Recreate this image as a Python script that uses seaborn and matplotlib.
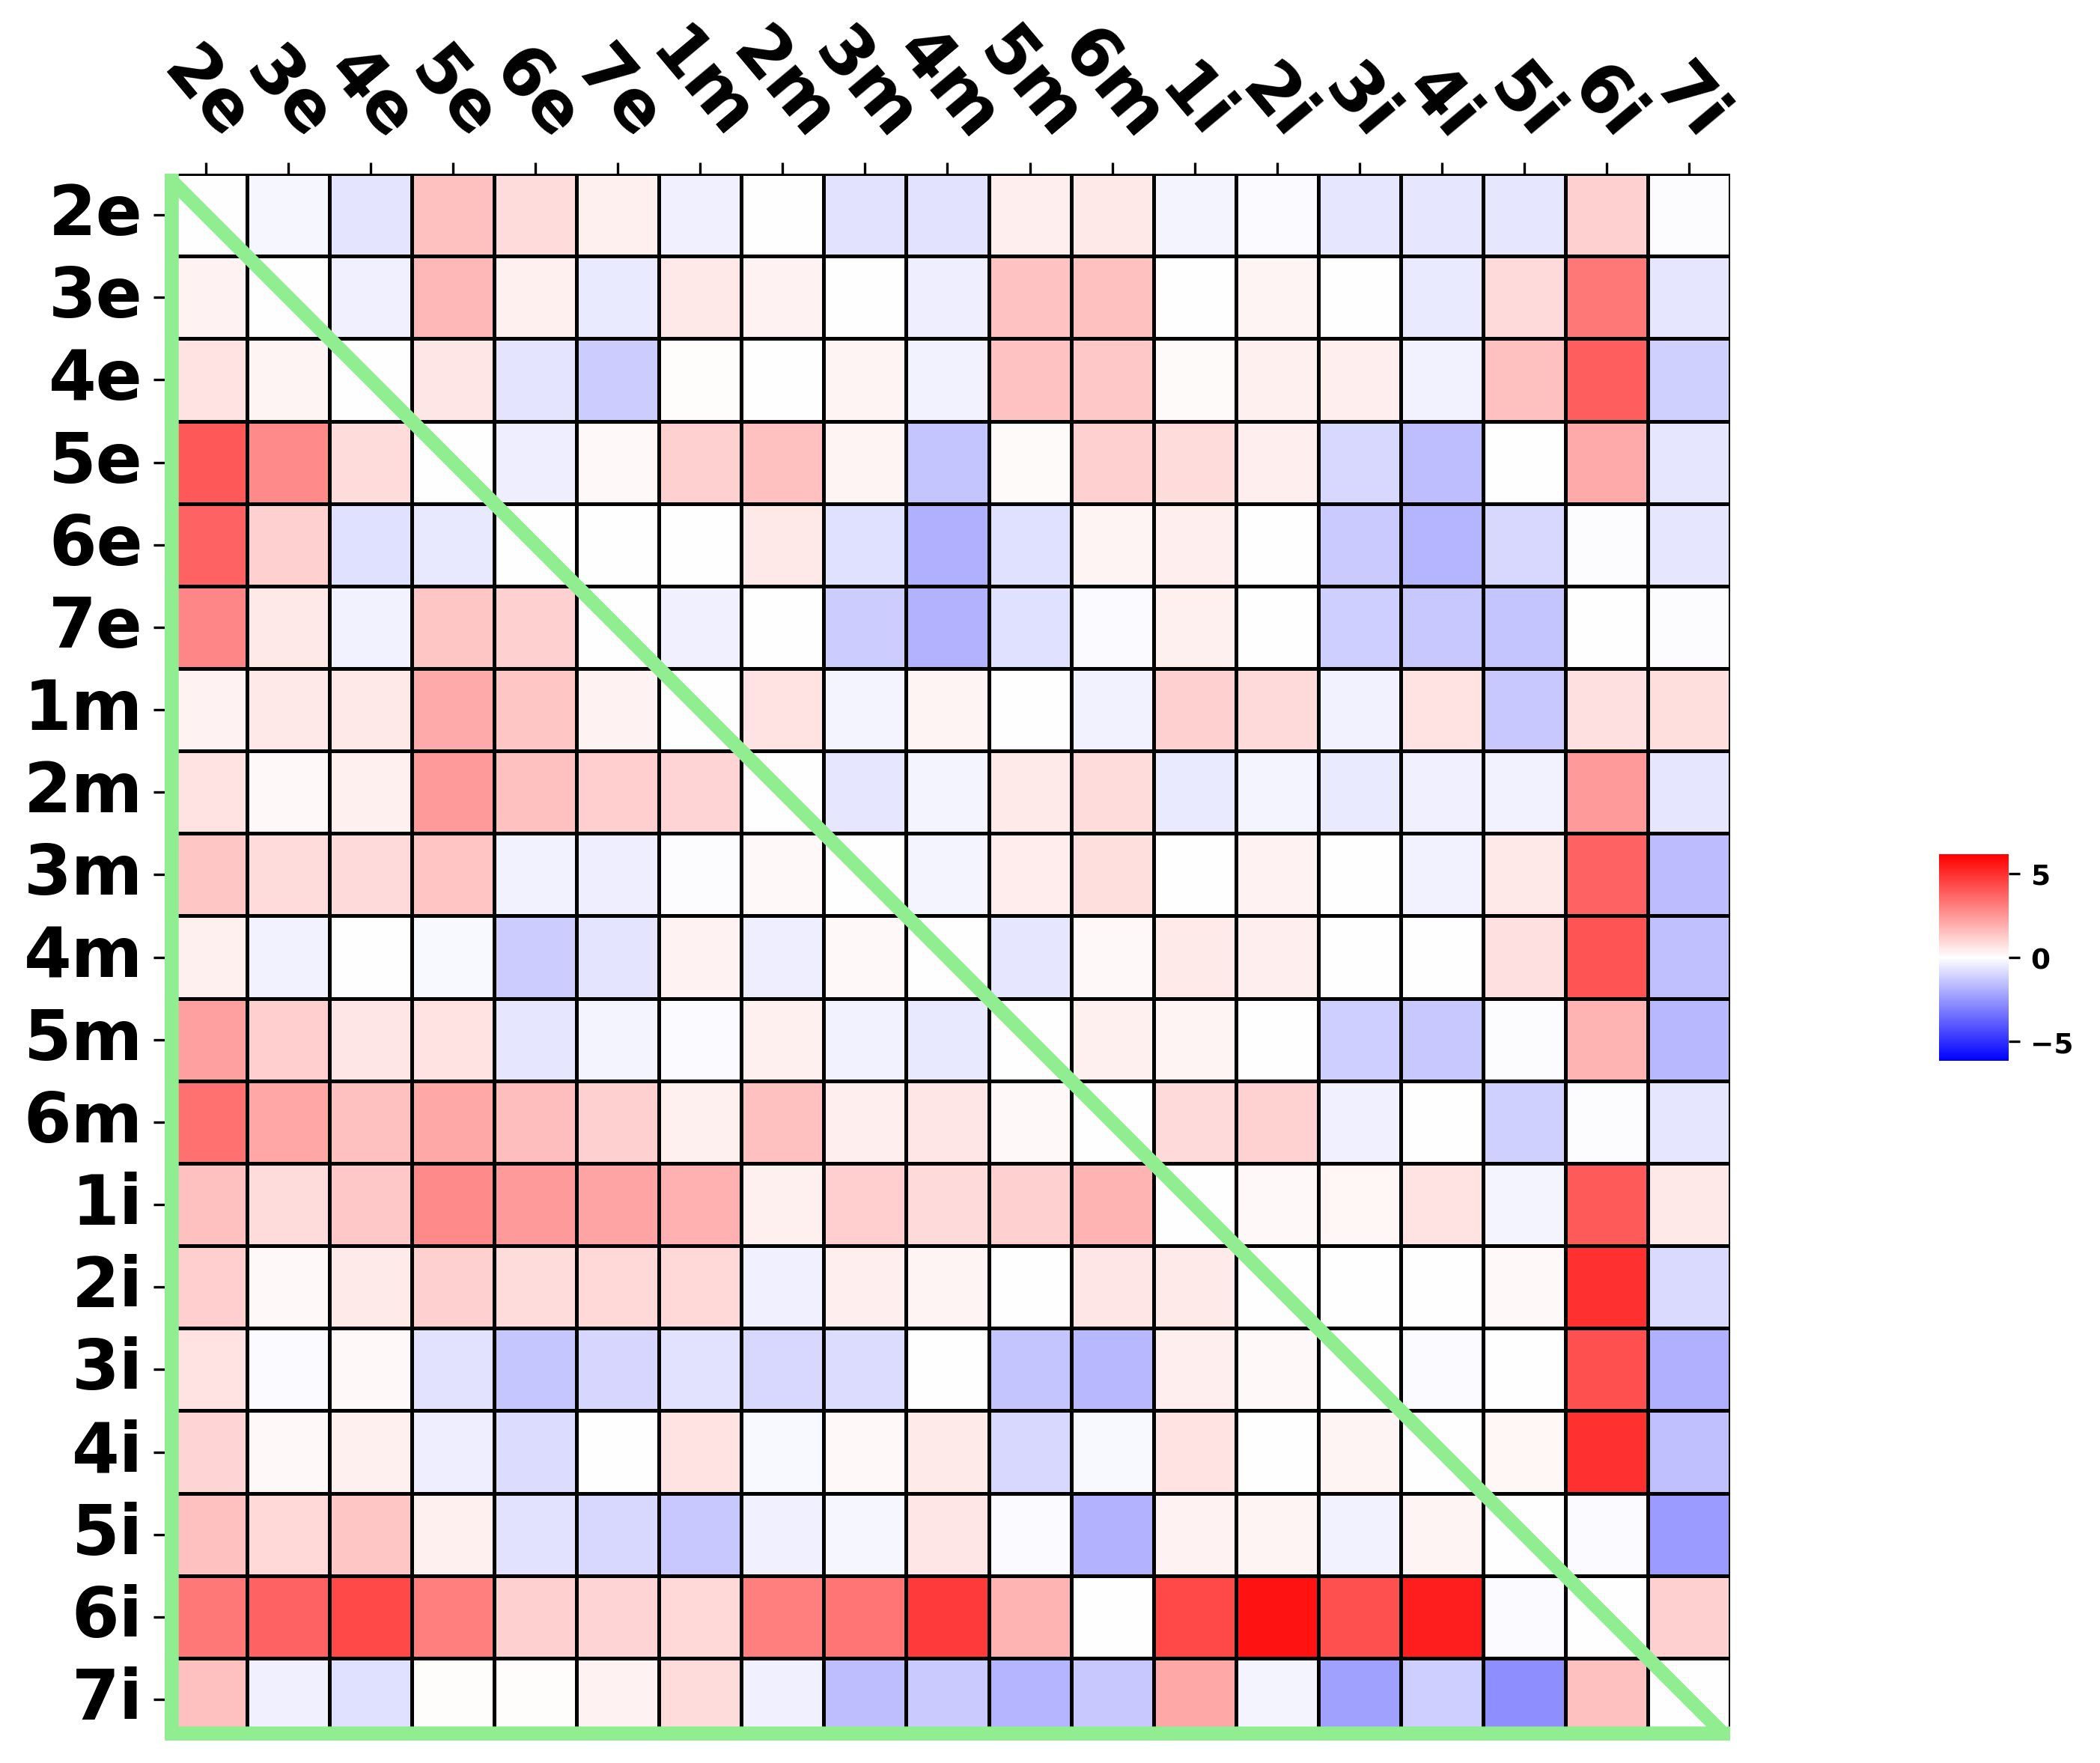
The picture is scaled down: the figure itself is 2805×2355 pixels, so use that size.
import numpy as np
import pandas as pd
import matplotlib
matplotlib.use("Agg")
import matplotlib.pyplot as plt
import seaborn as sns

labels = ["2e", "3e", "4e", "5e", "6e", "7e", "1m", "2m", "3m", "4m",
          "5m", "6m", "1i", "2i", "3i", "4i", "5i", "6i", "7i"]

row_2e = [0, -0.2, -0.65, 1.5, 0.85, 0.35, -0.35, 0, -0.7, -0.7, 0.4, 0.55, -0.25, -0.1, -0.6, -0.6, -0.6, 1.15, -0.05]
row_3e = [0.3, 0, -0.35, 1.7, 0.35, -0.5, 0.55, 0.3, 0.02, -0.4, 1.45, 1.5, 0, 0.25, 0, -0.5, 0.9, 3.25, -0.6]
row_4e = [0.7, 0.25, 0, 0.6, -0.65, -1.23, 0.07, 0, 0.25, -0.3, 1.45, 1.3, 0.12, 0.35, 0.4, -0.3, 1.5, 3.85, -1.15]
row_5e = [4.0, 2.8, 0.85, 0, -0.4, 0.17, 1.15, 1.5, 0.25, -1.42, 0.1, 1.15, 0.85, 0.4, -0.95, -1.55, 0, 2.05, -0.6]
row_6e = [3.75, 1.15, -0.75, -0.55, 0, 0, 0, 0.55, -0.75, -1.9, -0.75, 0.25, 0.4, 0, -1.25, -1.8, -0.95, -0.07, -0.6]
row_7e = [2.9, 0.55, -0.3, 1.35, 1.15, 0, -0.35, 0, -1.23, -1.85, -0.75, -0.1, 0.35, 0, -1.2, -1.3, -1.42, 0, -0.07]
row_1m = [0.3, 0.55, 0.55, 2.05, 1.35, 0.3, 0, 0.7, -0.25, 0.25, 0, -0.3, 1.15, 0.9, -0.3, 0.7, -1.3, 0.75, 0.8]
row_2m = [0.7, 0.17, 0.35, 2.45, 1.5, 1.2, 1.05, 0, -0.6, -0.25, 0.5, 0.85, -0.5, -0.25, -0.5, -0.35, -0.3, 2.45, -0.6]
row_3m = [1.35, 0.85, 0.9, 1.4, -0.3, -0.4, -0.05, 0.15, 0, -0.25, 0.45, 0.8, 0.03, 0.3, 0, -0.3, 0.55, 3.75, -1.6]
row_4m = [0.35, -0.3, -0.02, -0.15, -1.23, -0.65, 0.3, -0.4, 0.15, 0, -0.6, 0.15, 0.5, 0.4, 0.02, 0, 0.75, 4.1, -1.5]
row_5m = [2.3, 1.2, 0.6, 0.7, -0.6, -0.25, -0.1, 0.35, -0.3, -0.55, 0, 0.35, 0.25, 0.02, -1.2, -1.3, -0.05, 1.8, -1.7]
row_6m = [3.45, 2.15, 1.5, 2.1, 1.55, 1.15, 0.35, 1.5, 0.4, 0.6, 0.15, 0, 0.9, 1.1, -0.35, 0.02, -1.15, -0.05, -0.6]
row_1i = [1.5, 0.85, 1.3, 2.8, 2.45, 2.2, 1.9, 0.35, 1.2, 0.9, 1.15, 1.8, 0, 0.15, 0.2, 0.7, -0.25, 3.95, 0.55]
row_2i = [1.2, 0.17, 0.5, 1.15, 0.85, 0.95, 0.95, -0.35, 0.4, 0.25, 0.02, 0.6, 0.5, 0, 0, 0.02, 0.15, 4.95, -0.9]
row_3i = [0.7, -0.12, 0.15, -0.7, -1.37, -1.0, -0.7, -0.95, -0.85, 0.02, -1.42, -1.7, 0.4, 0.15, 0, -0.1, 0, 4.2, -1.9]
row_4i = [1.05, 0.15, 0.35, -0.4, -0.85, 0, 0.7, -0.15, 0.15, 0.5, -0.95, -0.15, 0.7, 0, 0.25, 0, 0.2, 4.95, -1.5]
row_5i = [1.5, 0.95, 1.35, 0.35, -0.7, -0.95, -1.32, -0.35, -0.22, 0.6, -0.12, -1.85, 0.3, 0.25, -0.3, 0.25, 0, -0.12, -2.45]
row_6i = [3.25, 3.75, 4.4, 3.1, 1.15, 1.05, 0.95, 3.1, 3.35, 4.75, 1.8, 0.03, 4.4, 5.7, 4.2, 5.4, -0.12, 0, 1.15]
row_7i = [1.5, -0.35, -0.75, 0.08, 0.08, 0.3, 0.85, -0.35, -1.57, -1.25, -1.8, -1.32, 2.1, -0.25, -2.3, -1.2, -2.7, 1.5, 0]


def main():
    rows = [row_2e, row_3e, row_4e, row_5e, row_6e, row_7e, row_1m, row_2m, row_3m, row_4m,
            row_5m, row_6m, row_1i, row_2i, row_3i, row_4i, row_5i, row_6i, row_7i]
    matrix = pd.DataFrame(np.array(rows), index=labels, columns=labels)
    n = len(labels)

    fig = plt.figure(figsize=(9.35, 7.8533), dpi=300)
    ax = fig.add_axes([0.0784, 0.0127, 0.7455, 0.8884])
    cbar_ax = fig.add_axes([0.9234, 0.3981, 0.0332, 0.1171])

    sns.heatmap(matrix, ax=ax, cbar_ax=cbar_ax, cmap="bwr", vmin=-6.15, vmax=6.15,
                linewidths=0.8, linecolor="black")

    # triangle outline (lower-left half)
    ax.plot([0, 0], [0, n], color="lightgreen", lw=9, solid_capstyle="butt")
    ax.plot([0, n], [n, n], color="lightgreen", lw=9, solid_capstyle="butt")
    ax.plot([0, n], [0, n], color="lightgreen", lw=4.5, solid_capstyle="butt")

    ax.xaxis.tick_top()
    ax.set_xticklabels(labels, rotation=-50, fontsize=22, fontweight="bold")
    ax.set_yticklabels(labels, rotation=0, fontsize=22, fontweight="bold")
    ax.set_xlabel("")
    ax.set_ylabel("")

    cbar_ax.tick_params(labelsize=9)
    for t in cbar_ax.get_yticklabels():
        t.set_fontweight("bold")

    fig.savefig("out.png", dpi=300)


if __name__ == "__main__":
    main()
